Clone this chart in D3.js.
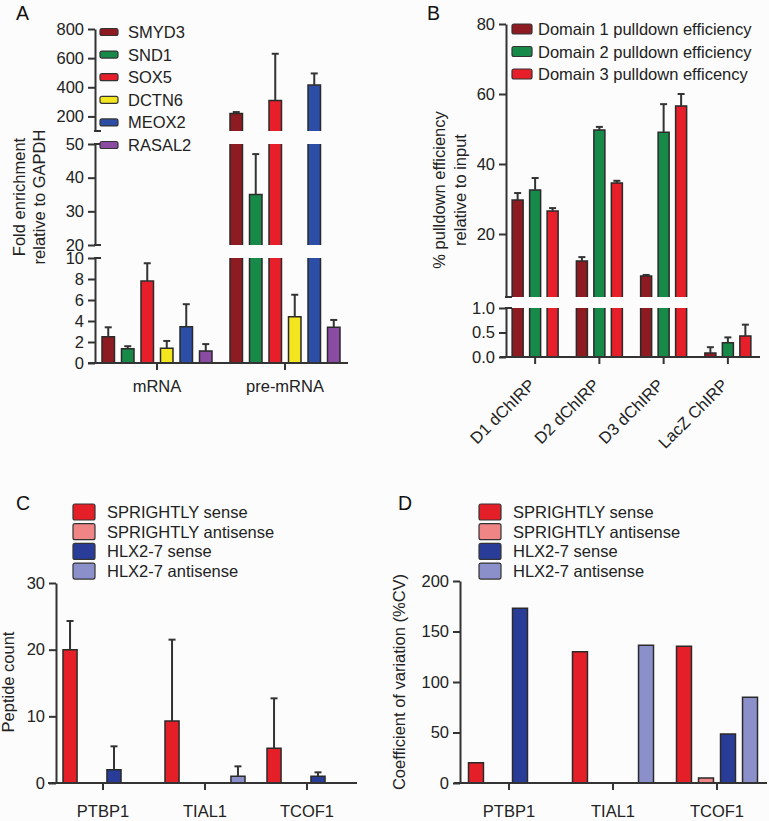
<!DOCTYPE html>
<html><head><meta charset="utf-8">
<script src="https://cdn.jsdelivr.net/npm/d3@7"></script>
<style>
body{margin:0;background:#fcfcfc;}
svg{display:block;font-family:"Liberation Sans",Arial,Helvetica,sans-serif;}
</style></head><body>
<svg id="c" width="769" height="821"></svg>
<script>
// ---------- Panel A data ----------
const aGroups = ["mRNA", "pre-mRNA"];
const aGenes = ["SMYD3", "SND1", "SOX5", "DCTN6", "MEOX2", "RASAL2"];
const aMRNA = [2.5, 1.35, 7.8, 1.4, 3.45, 1.15];
const aMRNAErr = [0.9, 0.25, 1.7, 0.7, 2.15, 0.65];
const aPre = [220, 35, 310, 4.4, 415, 3.4];
const aPreErr = [10, 12, 320, 2.1, 80, 0.7];
const aTicksUpper = [200, 400, 600, 800];
const aTicksMid = [20, 30, 40, 50];
const aTicksLow = [0, 2, 4, 6, 8, 10];

// ---------- Panel B data ----------
const bGroups = ["D1 dChIRP", "D2 dChIRP", "D3 dChIRP", "LacZ ChIRP"];
const bSeries = ["Domain 1 pulldown efficiency", "Domain 2 pulldown efficiency", "Domain 3 pulldown efficency"];
const bDom1 = [29.7, 12.3, 8.0, 0.08];
const bDom1Err = [2.0, 1.1, 0.3, 0.12];
const bDom2 = [32.6, 49.7, 49.1, 0.29];
const bDom2Err = [3.4, 0.9, 8.0, 0.11];
const bDom3 = [26.6, 34.6, 56.6, 0.43];
const bDom3Err = [0.8, 0.6, 3.4, 0.23];
const bTicksUpper = [20, 40, 60, 80];
const bTicksLow = [0, 0.5, 1.0];

// ---------- Panel C data ----------
const cdGroups = ["PTBP1", "TIAL1", "TCOF1"];
const cdSeries = ["SPRIGHTLY sense", "SPRIGHTLY antisense", "HLX2-7 sense", "HLX2-7 antisense"];
const cSense = [20, 9.3, 5.2];
const cSenseErr = [4.3, 12.2, 7.5];
const cAnti = [0, 0, 0];
const cAntiErr = [0, 0, 0];
const cHlxSense = [2.0, 0, 1.0];
const cHlxSenseErr = [3.5, 0, 0.6];
const cHlxAnti = [0, 1.0, 0];
const cHlxAntiErr = [0, 1.5, 0];
const cTicks = [0, 10, 20, 30];

// ---------- Panel D data ----------
const dSense = [20, 130, 135.5];
const dAnti = [0, 0, 5];
const dHlxSense = [173, 0, 48.5];
const dHlxAnti = [0, 136.5, 85];
const dTicks = [0, 50, 100, 150, 200];

// ---------- styles ----------
const aColors = ["#8e1b22", "#178a4a", "#e61f2a", "#f3e61f", "#2d4ea6", "#8a4ba3"];
const bColors = ["#8e1b22", "#178a4a", "#e61f2a"];
const cdColors = ["#e41f27", "#ef8585", "#293d98", "#8b90cb"];
const FS = 16.5, INK = "#222", AX = "#333";

const svg = d3.select("#c");
svg.append("rect").attr("width", 769).attr("height", 821).attr("fill", "#fcfcfc");

function styleAxis(g) {
  g.select(".domain").attr("stroke", AX).attr("stroke-width", 2);
  g.selectAll(".tick line").attr("stroke", AX).attr("stroke-width", 2);
  g.selectAll(".tick text").attr("font-size", FS).attr("fill", INK).attr("font-family", null);
}
function yAxis(x, scale, ticks, fmt) {
  const ax = d3.axisLeft(scale).tickValues(ticks).tickSize(7).tickSizeOuter(0).tickPadding(4);
  if (fmt) ax.tickFormat(fmt);
  const g = svg.append("g").attr("transform", `translate(${x},0)`).call(ax);
  styleAxis(g);
  return g;
}
function cap(x, y) {
  svg.append("line").attr("x1", x - 1).attr("x2", x + 6).attr("y1", y).attr("y2", y)
    .attr("stroke", AX).attr("stroke-width", 2);
}
function xAxisLine(x0, x1, y) {
  svg.append("line").attr("x1", x0).attr("x2", x1).attr("y1", y).attr("y2", y)
    .attr("stroke", AX).attr("stroke-width", 2.2);
}
function xTicks(xs, y, labels, pad) {
  xs.forEach((x, i) => {
    svg.append("line").attr("x1", x).attr("x2", x).attr("y1", y).attr("y2", y + 7)
      .attr("stroke", AX).attr("stroke-width", 2);
    if (labels) svg.append("text").attr("x", x).attr("y", y + pad).attr("text-anchor", "middle")
      .attr("font-size", FS).attr("fill", INK).text(labels[i]);
  });
}
// bar drawn across (possibly) broken segments
function brokenBar(segs, x, w, v, color) {
  segs.forEach(s => {
    const [d0, d1] = s.domain();
    if (v <= d0) return;
    const top = Math.min(v, d1);
    const y0 = s(d0), y1 = s(top);
    svg.append("rect").attr("x", x).attr("y", y1).attr("width", w).attr("height", y0 - y1).attr("fill", color);
    let p = `M${x},${y0}L${x},${y1}`;
    p += (v <= d1) ? `L${x + w},${y1}` : `M${x + w},${y1}`;
    p += `L${x + w},${y0}`;
    svg.append("path").attr("d", p).attr("fill", "none").attr("stroke", "#2a2a2a").attr("stroke-width", 1.5);
  });
}
function errBar(segs, cx, v, e) {
  if (!e) return;
  const t = v + e;
  const s = segs.find(s => t >= s.domain()[0] && t <= s.domain()[1]) || segs[segs.length - 1];
  const y1 = s(Math.min(t, s.domain()[1])), y0 = s(Math.max(v, s.domain()[0]));
  svg.append("line").attr("x1", cx).attr("x2", cx).attr("y1", y0).attr("y2", y1).attr("stroke", "#333").attr("stroke-width", 2);
  svg.append("line").attr("x1", cx - 3.5).attr("x2", cx + 3.5).attr("y1", y1).attr("y2", y1).attr("stroke", "#333").attr("stroke-width", 2);
}
function panelLabel(t, x, y) {
  svg.append("text").attr("x", x).attr("y", y).attr("font-size", 19.5).attr("fill", "#111").text(t);
}
function yTitle(lines, xs, cy) {
  lines.forEach((l, i) => {
    svg.append("text").attr("transform", `translate(${xs[i]},${cy}) rotate(-90)`)
      .attr("text-anchor", "middle").attr("font-size", FS).attr("fill", INK).text(l);
  });
}

// ================= Panel A =================
{
  const axX = 95;
  const yU = d3.scaleLinear().domain([100, 800]).range([131, 29]);
  const yM = d3.scaleLinear().domain([20, 50]).range([245, 144]);
  const yL = d3.scaleLinear().domain([0, 10]).range([363, 258]);
  const segs = [yL, yM, yU];
  yAxis(axX, yU, aTicksUpper);
  yAxis(axX, yM, aTicksMid);
  yAxis(axX, yL, aTicksLow);
  [131, 144, 245, 258].forEach(y => cap(axX, y));
  const x = d3.scaleBand().domain(aGroups).range([93, 349]);
  const xi = d3.scaleBand().domain(aGenes).range([-55, 55]).paddingInner(0.36);
  const vals = [aMRNA, aPre], errs = [aMRNAErr, aPreErr];
  aGroups.forEach((g, gi) => {
    const c = x(g) + x.bandwidth() / 2;
    aGenes.forEach((s, si) => {
      const bx = c + xi(s);
      brokenBar(segs, bx, xi.bandwidth(), vals[gi][si], aColors[si]);
      errBar(segs, bx + xi.bandwidth() / 2, vals[gi][si], errs[gi][si]);
    });
  });
  xAxisLine(88, 348, 363);
  xTicks(aGroups.map(g => x(g) + x.bandwidth() / 2), 363, aGroups, 29);
  panelLabel("A", 16, 20);
  yTitle(["Fold enrichment", "relative to GAPDH"], [25, 45], 197);
  // legend
  aGenes.forEach((s, i) => {
    const cy = 32 + i * 22.6;
    svg.append("rect").attr("x", 100).attr("y", cy - 3.5).attr("width", 18).attr("height", 7).attr("rx", 2)
      .attr("fill", aColors[i]).attr("stroke", "#333").attr("stroke-width", 1.2);
    svg.append("text").attr("x", 128).attr("y", cy + 6).attr("font-size", FS).attr("fill", INK).text(s);
  });
}

// ================= Panel B =================
{
  const axX = 506;
  const yU = d3.scaleLinear().domain([2, 80]).range([297, 24]);
  const yL = d3.scaleLinear().domain([0, 1]).range([357, 308]);
  const segs = [yL, yU];
  yAxis(axX, yU, bTicksUpper);
  yAxis(axX, yL, bTicksLow, d3.format(".1f"));
  [297, 308].forEach(y => cap(axX, y));
  const x = d3.scaleBand().domain(bGroups).range([503, 760]);
  const xi = d3.scaleBand().domain(bSeries).range([-23, 23]).paddingInner(0.37);
  const vals = [bDom1, bDom2, bDom3], errs = [bDom1Err, bDom2Err, bDom3Err];
  bGroups.forEach((g, gi) => {
    const c = x(g) + x.bandwidth() / 2;
    bSeries.forEach((s, si) => {
      const bx = c + xi(s);
      brokenBar(segs, bx, xi.bandwidth(), vals[si][gi], bColors[si]);
      errBar(segs, bx + xi.bandwidth() / 2, vals[si][gi], errs[si][gi]);
    });
  });
  xAxisLine(500, 760, 357);
  const cs = bGroups.map(g => x(g) + x.bandwidth() / 2);
  xTicks(cs, 357, null);
  bGroups.forEach((g, i) => {
    svg.append("text").attr("transform", `translate(${cs[i] + 1},${386}) rotate(-45)`)
      .attr("text-anchor", "end").attr("font-size", FS).attr("fill", INK).text(g);
  });
  panelLabel("B", 427, 20);
  yTitle(["% pulldown efficiency", "relative to input"], [445, 466], 190);
  bSeries.forEach((s, i) => {
    const cy = 29 + i * 22.5;
    svg.append("rect").attr("x", 512).attr("y", cy - 5).attr("width", 20).attr("height", 10).attr("rx", 2)
      .attr("fill", bColors[i]).attr("stroke", "#333").attr("stroke-width", 1.2);
    svg.append("text").attr("x", 538).attr("y", cy + 6).attr("font-size", FS).attr("fill", INK).text(s);
  });
}

// ================= Panels C and D =================
function cdLegend(x0, tx) {
  cdSeries.forEach((s, i) => {
    const cy = 512 + i * 19.7;
    svg.append("rect").attr("x", x0).attr("y", cy - 8).attr("width", 22).attr("height", 16).attr("rx", 2)
      .attr("fill", cdColors[i]).attr("stroke", "#333").attr("stroke-width", 1.2);
    svg.append("text").attr("x", tx).attr("y", cy + 6).attr("font-size", FS).attr("fill", INK).text(s);
  });
}
{
  const axX = 56;
  const y = d3.scaleLinear().domain([0, 30]).range([783, 583]);
  yAxis(axX, y, cTicks);
  const x = d3.scaleBand().domain(cdGroups).range([52, 358]);
  const xi = d3.scaleBand().domain(cdSeries).range([-40, 40]).paddingInner(0.36);
  const vals = [cSense, cAnti, cHlxSense, cHlxAnti], errs = [cSenseErr, cAntiErr, cHlxSenseErr, cHlxAntiErr];
  cdGroups.forEach((g, gi) => {
    const c = x(g) + x.bandwidth() / 2;
    cdSeries.forEach((s, si) => {
      const bx = c + xi(s);
      brokenBar([y], bx, xi.bandwidth(), vals[si][gi], cdColors[si]);
      errBar([y], bx + xi.bandwidth() / 2, vals[si][gi], errs[si][gi]);
    });
  });
  xAxisLine(48, 357, 783);
  xTicks(cdGroups.map(g => x(g) + x.bandwidth() / 2), 783, cdGroups, 34);
  panelLabel("C", 16, 510);
  yTitle(["Peptide count"], [14], 682);
  cdLegend(73, 107);
}
{
  const axX = 460;
  const y = d3.scaleLinear().domain([0, 200]).range([783, 581]);
  yAxis(axX, y, dTicks);
  const x = d3.scaleBand().domain(cdGroups).range([457, 769]);
  const xi = d3.scaleBand().domain(cdSeries).range([-40.5, 40.5]).paddingInner(0.32);
  const vals = [dSense, dAnti, dHlxSense, dHlxAnti];
  cdGroups.forEach((g, gi) => {
    const c = x(g) + x.bandwidth() / 2;
    cdSeries.forEach((s, si) => {
      brokenBar([y], c + xi(s), xi.bandwidth(), vals[si][gi], cdColors[si]);
    });
  });
  xAxisLine(454, 767, 783);
  xTicks(cdGroups.map(g => x(g) + x.bandwidth() / 2), 783, cdGroups, 34);
  panelLabel("D", 398, 510);
  yTitle(["Coefficient of variation (%CV)"], [405], 682);
  cdLegend(479, 513);
}
</script></body></html>
